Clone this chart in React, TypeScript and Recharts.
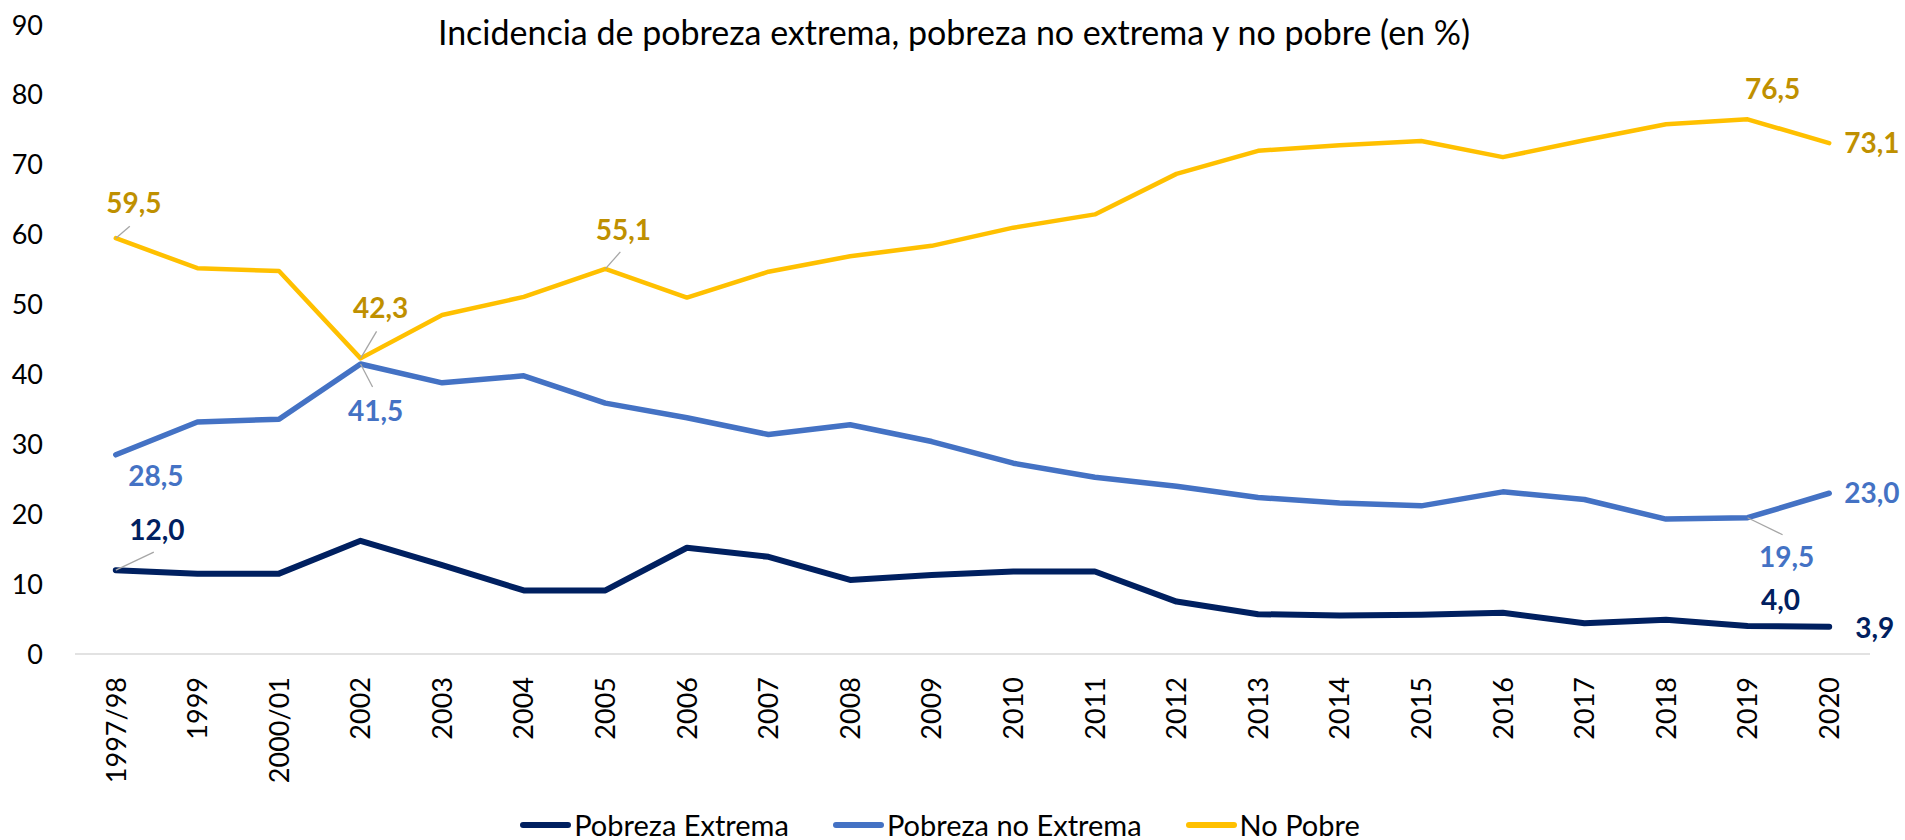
import React from 'react';
import { LineChart, Line, XAxis, YAxis, Legend, LabelList } from 'recharts';

const years = ['1997/98', '1999', '2000/01', '2002', '2003', '2004', '2005', '2006', '2007', '2008', '2009', '2010', '2011', '2012', '2013', '2014', '2015', '2016', '2017', '2018', '2019', '2020'];
const pobrezaExtrema = [12.0, 11.5, 11.5, 16.2, 12.7, 9.1, 9.1, 15.2, 13.9, 10.6, 11.3, 11.8, 11.8, 7.5, 5.7, 5.5, 5.6, 5.9, 4.4, 4.9, 4.0, 3.9];
const pobrezaNoExtrema = [28.5, 33.2, 33.6, 41.5, 38.8, 39.8, 35.9, 33.8, 31.4, 32.8, 30.4, 27.3, 25.3, 24.0, 22.4, 21.6, 21.2, 23.2, 22.1, 19.3, 19.5, 23.0];
const noPobre = [59.5, 55.2, 54.8, 42.3, 48.5, 51.1, 55.1, 51.0, 54.7, 56.9, 58.4, 61.0, 62.9, 68.7, 72.0, 72.8, 73.4, 71.1, 73.5, 75.8, 76.5, 73.1];
const yTicks = [0, 10, 20, 30, 40, 50, 60, 70, 80, 90];
const seriesNames = ['Pobreza Extrema', 'Pobreza no Extrema', 'No Pobre'];
const title = 'Incidencia de pobreza extrema, pobreza no extrema y no pobre (en %)';

const data = years.map((y, i) => ({
  year: y,
  extrema: pobrezaExtrema[i],
  noExtrema: pobrezaNoExtrema[i],
  noPobre: noPobre[i],
}));

const FONT = 'Lato, "Open Sans", sans-serif';
const colors = { extrema: '#002060', noExtrema: '#4472C4', noPobre: '#FFC000' };
const labelColors = { extrema: '#002060', noExtrema: '#4472C4', noPobre: '#BF9000' };

type LabelCfg = { index: number; dx: number; dy: number; anchor: 'middle' | 'start'; leader?: [number, number] };

const extremaLabels: LabelCfg[] = [
  { index: 0, dx: 41, dy: -40, anchor: 'middle', leader: [38, -18] },
  { index: 20, dx: 33, dy: -26, anchor: 'middle' },
  { index: 21, dx: 26, dy: 1, anchor: 'start' },
];
const noExtremaLabels: LabelCfg[] = [
  { index: 0, dx: 40, dy: 21, anchor: 'middle' },
  { index: 3, dx: 15, dy: 47, anchor: 'middle', leader: [12, 23] },
  { index: 20, dx: 39, dy: 39, anchor: 'middle', leader: [35, 17] },
  { index: 21, dx: 15, dy: 0, anchor: 'start' },
];
const noPobreLabels: LabelCfg[] = [
  { index: 0, dx: 18, dy: -35, anchor: 'middle', leader: [14, -12] },
  { index: 3, dx: 20, dy: -50, anchor: 'middle', leader: [16, -27] },
  { index: 6, dx: 18, dy: -39, anchor: 'middle', leader: [15, -17] },
  { index: 20, dx: 25, dy: -30, anchor: 'middle' },
  { index: 21, dx: 15, dy: 0, anchor: 'start' },
];

const makeLabel = (cfgs: LabelCfg[], color: string) => (props: any) => {
  const { x, y, value, index } = props;
  const cfg = cfgs.find((c) => c.index === index);
  if (!cfg || x == null || y == null) return null;
  const txt = Number(value).toFixed(1).replace('.', ',');
  return (
    <g>
      {cfg.leader && (
        <line x1={x} y1={y} x2={x + cfg.leader[0]} y2={y + cfg.leader[1]} stroke="#A6A6A6" strokeWidth={1.3} />
      )}
      <text
        x={x + cfg.dx}
        y={y + cfg.dy}
        dy="0.36em"
        textAnchor={cfg.anchor}
        fill={color}
        fontFamily={FONT}
        fontWeight={700}
        fontSize={28}
      >
        {txt}
      </text>
    </g>
  );
};

const XTick = (props: any) => {
  const { x, y, payload } = props;
  return (
    <g transform={`translate(${x}, ${y})`}>
      <text
        x={0}
        y={0}
        dy="0.36em"
        transform="rotate(-90)"
        textAnchor="end"
        fill="#000"
        fontFamily={FONT}
        fontSize={27}
      >
        {payload.value}
      </text>
    </g>
  );
};

const legendItems = [
  { name: seriesNames[0], color: colors.extrema },
  { name: seriesNames[1], color: colors.noExtrema },
  { name: seriesNames[2], color: colors.noPobre },
];

const LegendContent = () => (
  <div
    style={{
      display: 'flex',
      justifyContent: 'center',
      alignItems: 'center',
      gap: 44,
      fontFamily: FONT,
      fontSize: 29,
      color: '#000',
      lineHeight: '34px',
    }}
  >
    {legendItems.map((it) => (
      <div key={it.name} style={{ display: 'flex', alignItems: 'center' }}>
        <span
          style={{
            display: 'inline-block',
            width: 51,
            height: 6,
            borderRadius: 3,
            background: it.color,
            marginRight: 3,
          }}
        />
        <span>{it.name}</span>
      </div>
    ))}
  </div>
);

export default function App() {
  return (
    <div style={{ position: 'absolute', left: 0, top: 0, width: 1905, height: 840, background: '#fff', overflow: 'hidden' }}>
      <div
        style={{
          position: 'absolute',
          left: 0,
          top: 12,
          width: 1908,
          textAlign: 'center',
          fontFamily: FONT,
          fontSize: 34,
          color: '#000',
          lineHeight: '40px',
          whiteSpace: 'nowrap',
        }}
      >
        {title}
      </div>
      <LineChart
        width={1905}
        height={840}
        data={data}
        margin={{ top: 25, right: 35, left: 0, bottom: 0 }}
        style={{ position: 'absolute', left: 0, top: 0 }}
      >
        <XAxis
          dataKey="year"
          interval={0}
          height={186}
          padding={{ left: 40.8, right: 40.8 }}
          tickLine={false}
          tickSize={0}
          tickMargin={23}
          axisLine={{ stroke: '#D9D9D9', strokeWidth: 1.5 }}
          tick={<XTick />}
        />
        <YAxis
          domain={[0, 90]}
          ticks={yTicks}
          width={75}
          axisLine={false}
          tickLine={false}
          tickSize={0}
          tickMargin={32}
          tick={{ fill: '#000', fontFamily: FONT, fontSize: 27 }}
        />
        <Legend
          verticalAlign="middle"
          align="center"
          layout="horizontal"
          wrapperStyle={{ top: 808, left: 0, width: 1880 }}
          content={<LegendContent />}
        />
        <Line
          type="linear"
          dataKey="extrema"
          name={seriesNames[0]}
          stroke={colors.extrema}
          strokeWidth={6}
          strokeLinecap="round"
          strokeLinejoin="round"
          dot={false}
          isAnimationActive={false}
        >
          <LabelList dataKey="extrema" content={makeLabel(extremaLabels, labelColors.extrema)} />
        </Line>
        <Line
          type="linear"
          dataKey="noExtrema"
          name={seriesNames[1]}
          stroke={colors.noExtrema}
          strokeWidth={5.5}
          strokeLinecap="round"
          strokeLinejoin="round"
          dot={false}
          isAnimationActive={false}
        >
          <LabelList dataKey="noExtrema" content={makeLabel(noExtremaLabels, labelColors.noExtrema)} />
        </Line>
        <Line
          type="linear"
          dataKey="noPobre"
          name={seriesNames[2]}
          stroke={colors.noPobre}
          strokeWidth={4.5}
          strokeLinecap="round"
          strokeLinejoin="round"
          dot={false}
          isAnimationActive={false}
        >
          <LabelList dataKey="noPobre" content={makeLabel(noPobreLabels, labelColors.noPobre)} />
        </Line>
      </LineChart>
    </div>
  );
}
